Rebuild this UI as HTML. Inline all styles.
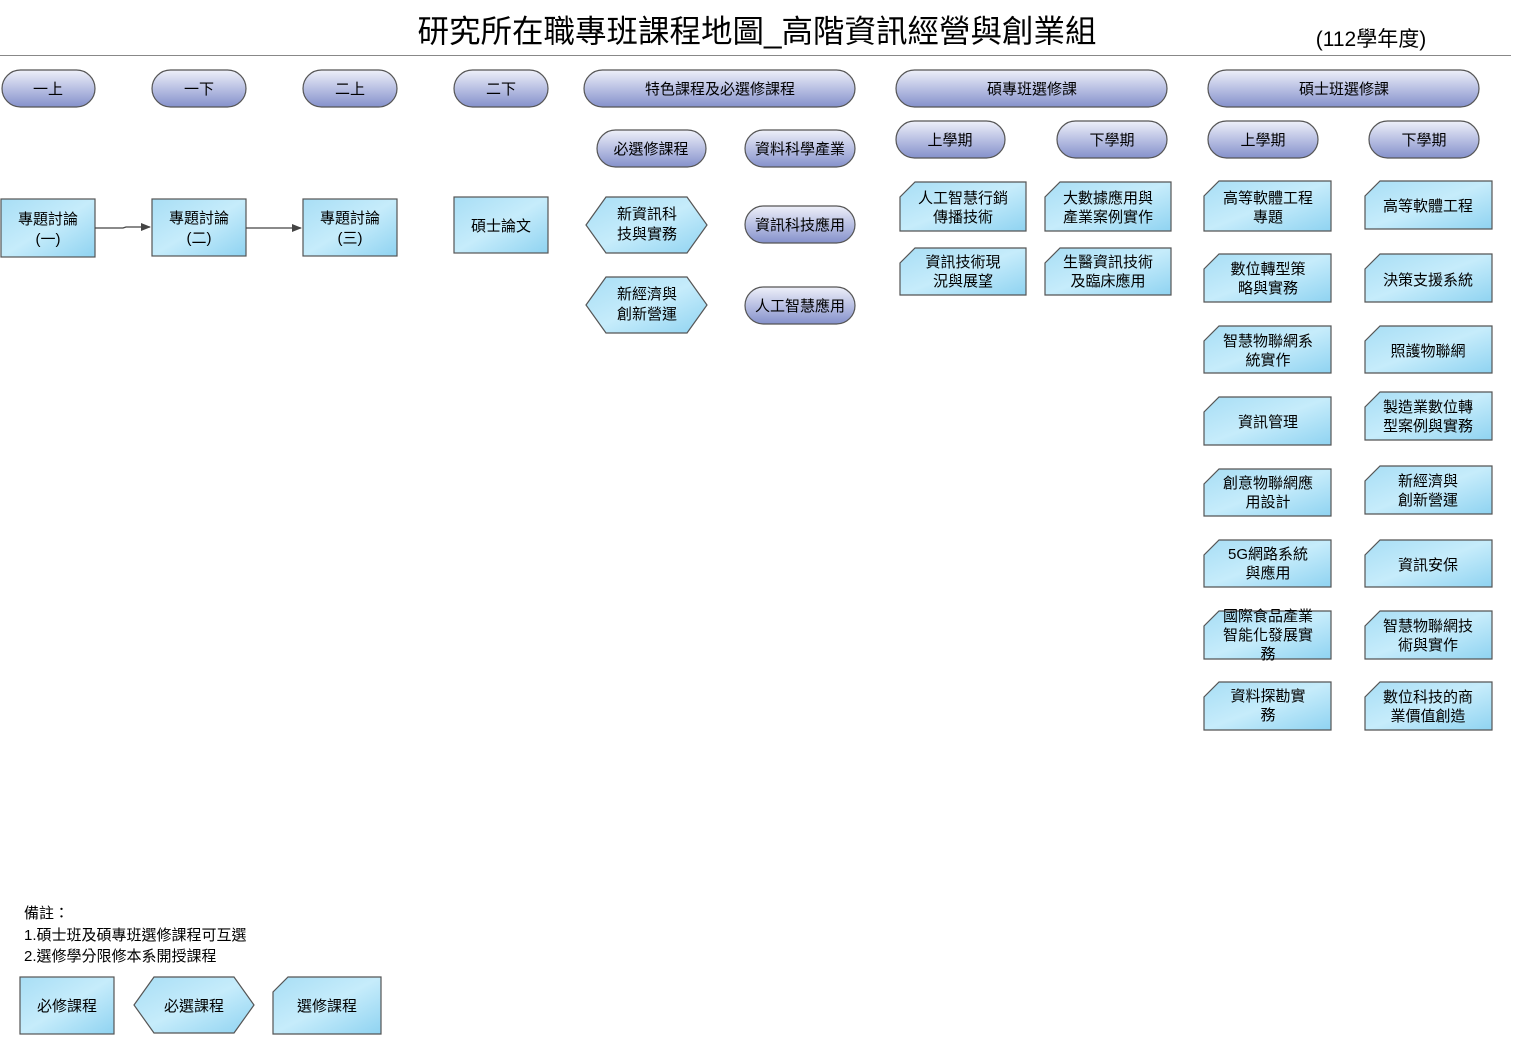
<!DOCTYPE html>
<html><head><meta charset="utf-8"><style>
html,body{margin:0;padding:0;background:#fff;}
svg{display:block;font-family:"Liberation Sans","Noto Sans CJK TC",sans-serif;}
</style></head><body>
<svg width="1514" height="1037" viewBox="0 0 1514 1037" xmlns="http://www.w3.org/2000/svg">
<defs>
<linearGradient id="pg" x1="0" y1="0" x2="0" y2="1"><stop offset="0" stop-color="#eef0f9"/><stop offset="0.5" stop-color="#b9c0e3"/><stop offset="1" stop-color="#8591cb"/></linearGradient>
<linearGradient id="bg" x1="0" y1="0" x2="1" y2="1"><stop offset="0" stop-color="#a8def5"/><stop offset="0.5" stop-color="#c6ecfb"/><stop offset="1" stop-color="#8fd3f1"/></linearGradient>
<marker id="ar" markerWidth="10" markerHeight="8" refX="9" refY="4" orient="auto" markerUnits="userSpaceOnUse"><path d="M0,0 L10,4 L0,8 Z" fill="#444"/></marker>
</defs>
<g font-size="15" fill="#000" text-anchor="middle">
<text x="757" y="42" font-size="31.5">研究所在職專班課程地圖_高階資訊經營與創業組</text>
<text x="1371" y="46" font-size="21">(112學年度)</text>
</g>
<line x1="0" y1="55.5" x2="1511" y2="55.5" stroke="#888" stroke-width="1"/>

<g stroke="#555" stroke-width="1.2" fill="url(#pg)">
<rect x="2" y="70" width="93" height="37" rx="18.5"/>
<rect x="152" y="70" width="94" height="37" rx="18.5"/>
<rect x="303" y="70" width="94" height="37" rx="18.5"/>
<rect x="454" y="70" width="94" height="37" rx="18.5"/>
<rect x="584" y="70" width="271" height="37" rx="18.5"/>
<rect x="896" y="70" width="271" height="37" rx="18.5"/>
<rect x="1208" y="70" width="271" height="37" rx="18.5"/>
<rect x="896" y="121" width="109" height="37" rx="18.5"/>
<rect x="1057" y="121" width="110" height="37" rx="18.5"/>
<rect x="1208" y="121" width="110" height="37" rx="18.5"/>
<rect x="1369" y="121" width="110" height="37" rx="18.5"/>
<rect x="597" y="130" width="109" height="37" rx="18.5"/>
<rect x="745" y="130" width="110" height="37" rx="18.5"/>
<rect x="745" y="206" width="110" height="37" rx="18.5"/>
<rect x="745" y="287" width="110" height="37" rx="18.5"/>
</g>
<g font-size="15" text-anchor="middle" fill="#000">
<text x="48" y="94">一上</text><text x="199" y="94">一下</text><text x="350" y="94">二上</text><text x="501" y="94">二下</text>
<text x="720" y="94">特色課程及必選修課程</text><text x="1032" y="94">碩專班選修課</text><text x="1344" y="94">碩士班選修課</text>
<text x="950" y="145">上學期</text><text x="1112" y="145">下學期</text><text x="1263" y="145">上學期</text><text x="1424" y="145">下學期</text>
<text x="651" y="154">必選修課程</text><text x="800" y="154">資料科學產業</text><text x="800" y="230">資訊科技應用</text><text x="800" y="311">人工智慧應用</text>
</g>

<g stroke="#555" stroke-width="1.2" fill="url(#bg)">
<rect x="1" y="199" width="94" height="58"/>
<rect x="152" y="199" width="94" height="57"/>
<rect x="303" y="199" width="94" height="57"/>
<rect x="454" y="197" width="94" height="56"/>
<polygon points="586,225 606,197 687,197 707,225 687,253 606,253"/>
<polygon points="586,305 606,277 687,277 707,305 687,333 606,333"/>
<path d="M915,182H1026V231H900V197Z"/>
<path d="M915,248H1026V295H900V263Z"/>
<path d="M1060,182H1171V231H1045V197Z"/>
<path d="M1060,248H1171V295H1045V263Z"/>
<path d="M1219,181H1331V231H1204V196Z"/>
<path d="M1219,254H1331V302H1204V269Z"/>
<path d="M1219,326H1331V373H1204V341Z"/>
<path d="M1219,397H1331V445H1204V412Z"/>
<path d="M1219,469H1331V516H1204V484Z"/>
<path d="M1219,540H1331V587H1204V555Z"/>
<path d="M1219,611H1331V659H1204V626Z"/>
<path d="M1219,682H1331V730H1204V697Z"/>
<path d="M1380,181H1492V229H1365V196Z"/>
<path d="M1380,254H1492V302H1365V269Z"/>
<path d="M1380,326H1492V373H1365V341Z"/>
<path d="M1380,392H1492V440H1365V407Z"/>
<path d="M1380,466H1492V514H1365V481Z"/>
<path d="M1380,540H1492V587H1365V555Z"/>
<path d="M1380,611H1492V659H1365V626Z"/>
<path d="M1380,682H1492V730H1365V697Z"/>
<rect x="20" y="977" width="94" height="57"/>
<polygon points="134,1005 154,977 234,977 254,1005 234,1033 154,1033"/>
<path d="M288,977H381V1034H273V992Z"/>
</g>
<g stroke="#444" stroke-width="1.3" fill="none">
<path d="M95,228H123L126,227H150" marker-end="url(#ar)"/>
<path d="M246,228H301" marker-end="url(#ar)"/>
</g>

<g font-size="15" text-anchor="middle" fill="#000">
<text x="48" y="224">專題討論<tspan x="48" dy="20">(一)</tspan></text>
<text x="199" y="223">專題討論<tspan x="199" dy="20">(二)</tspan></text>
<text x="350" y="223">專題討論<tspan x="350" dy="20">(三)</tspan></text>
<text x="501" y="231">碩士論文</text>
<text x="647" y="219">新資訊科<tspan x="647" dy="20">技與實務</tspan></text>
<text x="647" y="299">新經濟與<tspan x="647" dy="20">創新營運</tspan></text>
<text x="963" y="203">人工智慧行銷<tspan x="963" dy="19">傳播技術</tspan></text>
<text x="963" y="267">資訊技術現<tspan x="963" dy="19">況與展望</tspan></text>
<text x="1108" y="203">大數據應用與<tspan x="1108" dy="19">產業案例實作</tspan></text>
<text x="1108" y="267">生醫資訊技術<tspan x="1108" dy="19">及臨床應用</tspan></text>
<text x="1268" y="203">高等軟體工程<tspan x="1268" dy="19">專題</tspan></text>
<text x="1268" y="274">數位轉型策<tspan x="1268" dy="19">略與實務</tspan></text>
<text x="1268" y="346">智慧物聯網系<tspan x="1268" dy="19">統實作</tspan></text>
<text x="1268" y="427">資訊管理</text>
<text x="1268" y="488">創意物聯網應<tspan x="1268" dy="19">用設計</tspan></text>
<text x="1268" y="559">5G網路系統<tspan x="1268" dy="19">與應用</tspan></text>
<text x="1268" y="621">國際食品產業<tspan x="1268" dy="19">智能化發展實</tspan><tspan x="1268" dy="19">務</tspan></text>
<text x="1268" y="701">資料探勘實<tspan x="1268" dy="19">務</tspan></text>
<text x="1428" y="211">高等軟體工程</text>
<text x="1428" y="285">決策支援系統</text>
<text x="1428" y="356">照護物聯網</text>
<text x="1428" y="412">製造業數位轉<tspan x="1428" dy="19">型案例與實務</tspan></text>
<text x="1428" y="486">新經濟與<tspan x="1428" dy="19">創新營運</tspan></text>
<text x="1428" y="570">資訊安保</text>
<text x="1428" y="631">智慧物聯網技<tspan x="1428" dy="19">術與實作</tspan></text>
<text x="1428" y="702">數位科技的商<tspan x="1428" dy="19">業價值創造</tspan></text>
<text x="67" y="1011">必修課程</text>
<text x="194" y="1011">必選課程</text>
<text x="327" y="1011">選修課程</text>
</g>
<g font-size="15" fill="#000">
<text x="24" y="918">備註：</text>
<text x="24" y="940">1.碩士班及碩專班選修課程可互選</text>
<text x="24" y="961">2.選修學分限修本系開授課程</text>
</g>
</svg>
</body></html>
